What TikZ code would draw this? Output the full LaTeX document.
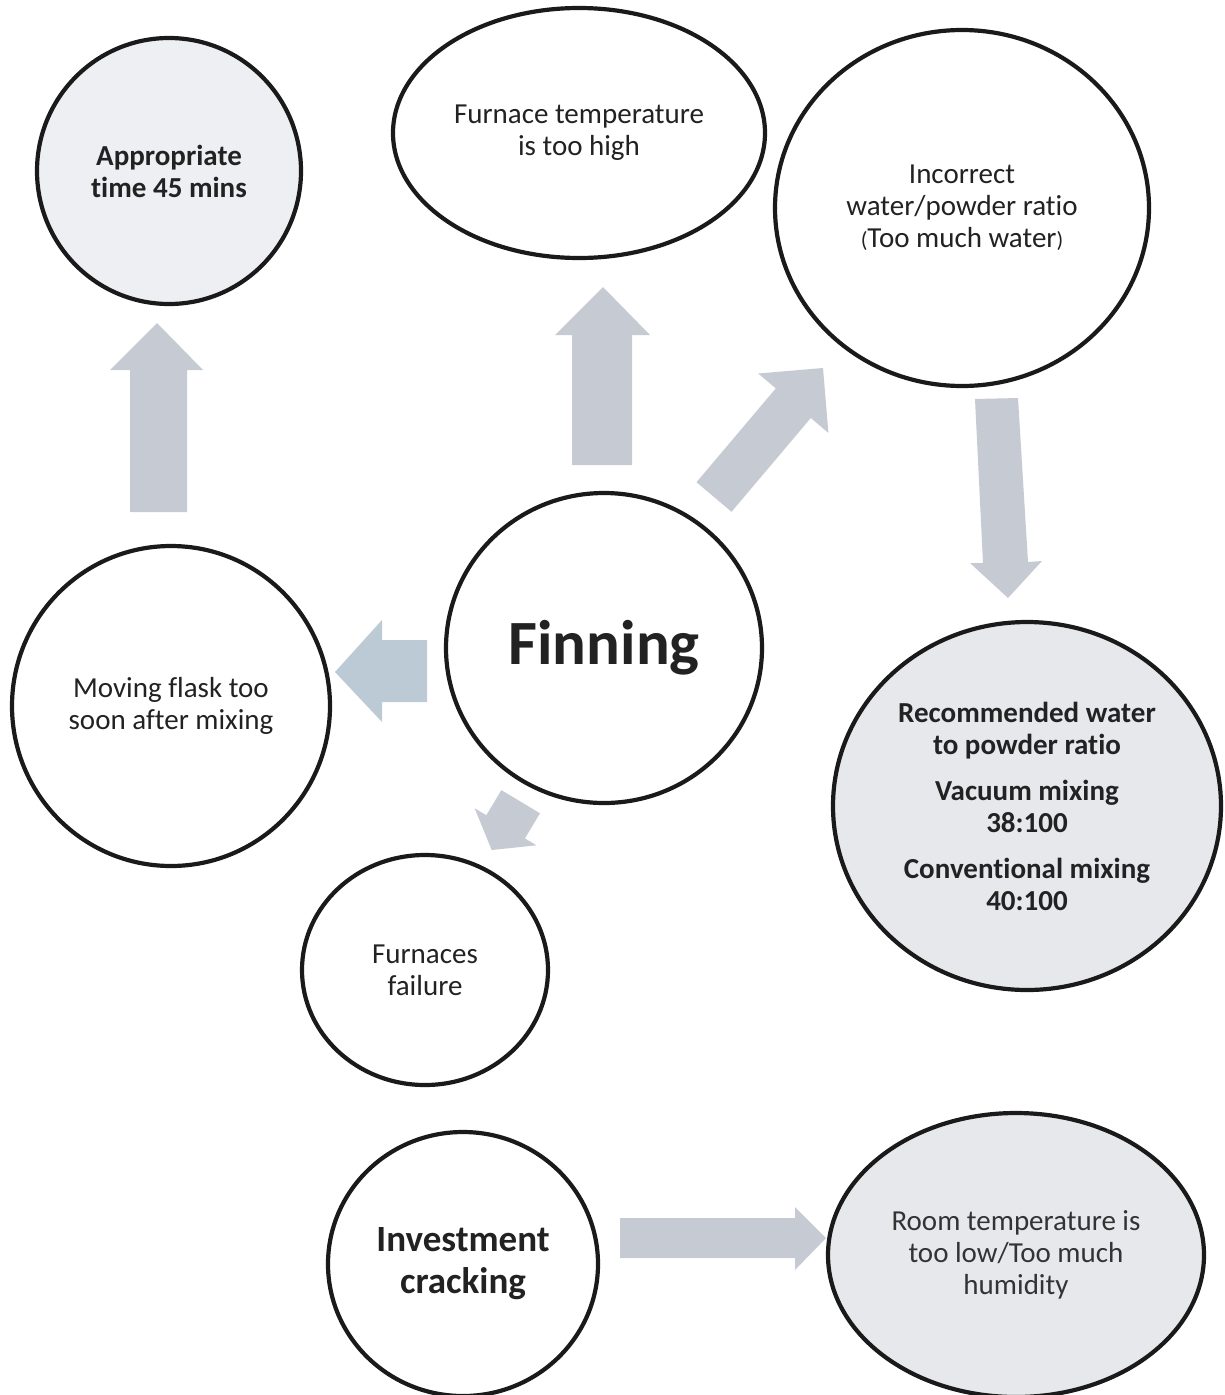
\documentclass[tikz,border=0pt]{standalone}
\usepackage{fontspec}
\setmainfont[Ligatures=NoCommon]{Carlito}
\usetikzlibrary{shapes.geometric}
\definecolor{inkc}{HTML}{1A1A1A}
\definecolor{txtc}{HTML}{222222}
\definecolor{pale}{HTML}{EDEFF3}
\definecolor{paleb}{HTML}{E6E8EC}
\definecolor{arrowc}{HTML}{C6CBD3}
\definecolor{arrowb}{HTML}{BCCAD5}
\tikzset{
  bub/.style={ellipse, draw=inkc, line width=4.2pt, inner sep=0pt, align=center, text=txtc},
  reg/.style={font=\fontsize{29}{32}\selectfont},
  bld/.style={font=\bfseries\fontsize{29}{32}\selectfont},
  blockarrow/.style={fill=arrowc, draw=none}
}
\begin{document}
\begin{tikzpicture}[x=1pt,y=-1pt]
\useasboundingbox (0,0) rectangle (1224,1395);
\fill[white] (0,0) rectangle (1224,1395);

% bubbles
\node[bub, bld, fill=pale, minimum width=264, minimum height=266] (appr) at (169,171) {Appropriate\\time 45 mins};
\node[bub, reg, fill=white, minimum width=372, minimum height=250] (ftemp) at (579,133) {Furnace temperature\\is too high};
\node[bub, reg, fill=white, minimum width=374, minimum height=356] (incor) at (962,208) {Incorrect\\water/powder ratio\\{\fontsize{22}{22}\selectfont(}Too much water{\fontsize{22}{22}\selectfont)}};
\node[bub, fill=white, minimum width=316, minimum height=310, font=\bfseries\fontsize{63}{70}\selectfont] (fin) at (604,648) {Finning};
\node[bub, reg, fill=white, minimum width=318, minimum height=320] (move) at (171,706) {Moving flask too\\soon after mixing};
\node[bub, bld, fill=paleb, minimum width=388, minimum height=368] (rec) at (1027,806) {Recommended water\\to powder ratio\\[14pt]Vacuum mixing\\38:100\\[14pt]Conventional mixing\\40:100};
\node[bub, reg, fill=white, minimum width=246, minimum height=230] (fail) at (425,970) {Furnaces\\failure};
\node[bub, fill=white, minimum width=270, minimum height=264, font=\bfseries\fontsize{37}{42}\selectfont] (inv) at (463,1264) {Investment\\cracking};
\node[bub, reg, fill=paleb, minimum width=376, minimum height=284, text=black!80] (room) at (1016,1255) {Room temperature is\\too low/Too much\\humidity};

% block arrows
% move -> appr (up)
\path[blockarrow] (130,512) -- (130,370) -- (110,370) -- (157,323) -- (203,370) -- (187,370) -- (187,512) -- cycle;
% fin -> ftemp (up)
\path[blockarrow] (572,465) -- (572,335) -- (555,335) -- (603,287) -- (650,335) -- (632,335) -- (632,465) -- cycle;
% fin -> incor (diagonal)
\path[blockarrow] (696.5,482.2) -- (775.8,388.4) -- (758.2,373.5) -- (823,368) -- (828.4,432.9) -- (810.8,418) -- (731.5,511.8) -- cycle;
% incor -> rec (down)
\path[blockarrow] (975,399) -- (1018,398) -- (1028,562) -- (1042,561) -- (1008,598) -- (970,563) -- (983,563) -- cycle;
% fin -> move (left)
\path[blockarrow, fill=arrowb] (427,640) -- (382,640) -- (382,620) -- (335,672) -- (382,722) -- (382,702) -- (427,702) -- cycle;
% fin -> fail (small, down-left)
\path[blockarrow] (501.4,790.1) -- (540,813.3) -- (524.9,838.4) -- (536.5,845.3) -- (491.7,850) -- (474.7,808.3) -- (486.3,815.2) -- cycle;
% inv -> room (right)
\path[blockarrow] (620,1218) -- (795,1218) -- (795,1207) -- (826,1238) -- (795,1270) -- (795,1258) -- (620,1258) -- cycle;
\end{tikzpicture}
\end{document}
